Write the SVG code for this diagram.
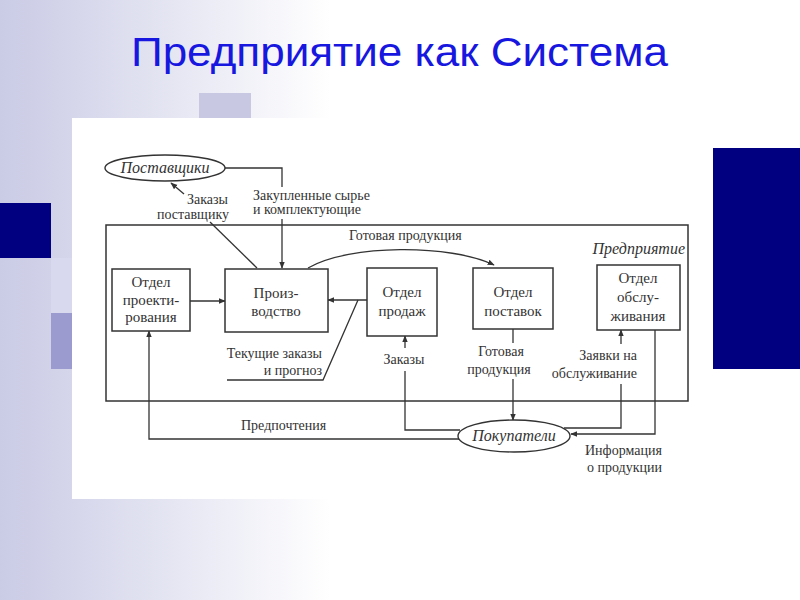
<svg xmlns="http://www.w3.org/2000/svg" width="800" height="600" viewBox="0 0 800 600">
  <defs>
    <linearGradient id="bg" gradientUnits="userSpaceOnUse" x1="0" y1="0" x2="330" y2="0">
      <stop offset="0" stop-color="#cacbe5"/>
      <stop offset="0.2" stop-color="#d4d5ea"/>
      <stop offset="1" stop-color="#ffffff"/>
    </linearGradient>
    <marker id="arr" viewBox="0 0 10 10" refX="9" refY="5" markerWidth="7" markerHeight="7" markerUnits="userSpaceOnUse" orient="auto">
      <path d="M0,1 L10,5 L0,9 Z" fill="#333"/>
    </marker>
    <style>
      .box { fill: #fff; stroke: #333; stroke-width: 1.5; }
      .ell { fill: #fff; stroke: #333; stroke-width: 1.4; }
      .ln { fill: none; stroke: #333; stroke-width: 1.3; }
      .a { marker-end: url(#arr); }
      .t { font-family: "Liberation Serif", "DejaVu Serif", serif; font-size: 15px; fill: #333; }
      .l { font-family: "Liberation Serif", "DejaVu Serif", serif; font-size: 14px; fill: #333; }
      .i { font-family: "Liberation Serif", "DejaVu Serif", serif; font-size: 16px; font-style: italic; fill: #333; }
      .c { text-anchor: middle; }
      .r { text-anchor: end; }
    </style>
  </defs>

  <!-- background -->
  <rect x="0" y="0" width="800" height="600" fill="url(#bg)"/>
  <rect x="199" y="93" width="52" height="52" fill="#c8c8e3"/>
  <rect x="0" y="203" width="51" height="55" fill="#000080"/>
  <rect x="51" y="258" width="55" height="55" fill="#d8d8ee"/>
  <rect x="51" y="313" width="55" height="56" fill="#9b9bd0"/>

  <!-- white panel -->
  <rect x="72" y="118" width="643" height="381" fill="#ffffff"/>
  <rect x="713" y="148" width="87" height="221" fill="#000080"/>

  <!-- title -->
  <text x="131" y="66" font-family="'Liberation Sans', Arial, sans-serif" font-size="40" fill="#1717e0" textLength="537" lengthAdjust="spacingAndGlyphs">Предприятие как Система</text>

  <!-- enterprise boundary -->
  <g id="enterprise">
    <rect x="106" y="225" width="582" height="176" fill="none" stroke="#333" stroke-width="1.5"/>
    <text class="i" x="685" y="254" text-anchor="end">Предприятие</text>
  </g>

  <!-- connectors -->
  <g id="connectors">
    <!-- suppliers -> production -->
    <path class="ln" d="M225,168 H282 V187"/>
    <path class="ln a" d="M282,219 V268"/>
    <!-- production -> suppliers (orders) -->
    <path class="ln" d="M257,268 L210,222"/>
    <path class="ln a" d="M184,194 L171,183"/>
    <!-- design -> production -->
    <path class="ln a" d="M190,301 H225"/>
    <!-- sales -> production -->
    <path class="ln a" d="M367,300 H328"/>
    <!-- leader for current orders -->
    <path class="ln" d="M358,300 L323,380 H227"/>
    <!-- production -> supply (finished goods) -->
    <path class="ln a" d="M308,268 C350,244 450,244 494,265"/>
    <!-- customers -> sales (orders) -->
    <path class="ln" d="M460,430 H405 V371"/>
    <path class="ln a" d="M405,348 V336"/>
    <!-- supply -> customers -->
    <path class="ln" d="M513,329 V343"/>
    <path class="ln a" d="M513,379 V420"/>
    <!-- customers -> service (requests) -->
    <path class="ln" d="M564,428 H621 V384"/>
    <path class="ln a" d="M621,344 V330"/>
    <!-- service -> customers (product info) -->
    <path class="ln a" d="M655,330 V434 H571"/>
    <!-- customers -> design (preferences) -->
    <path class="ln a" d="M459,439 H149 V331"/>
  </g>

  <!-- connector labels -->
  <g id="labels">
    <text class="l" x="253" y="200">Закупленные сырье</text>
    <text class="l" x="253" y="214">и комплектующие</text>
    <text class="l r" x="228" y="204">Заказы</text>
    <text class="l r" x="229" y="219">поставщику</text>
    <text class="l" x="349" y="240">Готовая продукция</text>
    <text class="l r" x="322" y="358">Текущие заказы</text>
    <text class="l r" x="322" y="375">и прогноз</text>
    <text class="l c" x="404" y="364">Заказы</text>
    <text class="l c" x="501" y="356">Готовая</text>
    <text class="l c" x="499" y="374">продукция</text>
    <text class="l r" x="637" y="360">Заявки на</text>
    <text class="l r" x="637" y="378">обслуживание</text>
    <text class="l" x="241" y="430">Предпочтения</text>
    <text class="l" x="585" y="455">Информация</text>
    <text class="l" x="587" y="472">о продукции</text>
  </g>

  <!-- nodes -->
  <g id="suppliers">
    <ellipse class="ell" cx="165" cy="168" rx="60" ry="13"/>
    <text class="i c" x="165" y="173">Поставщики</text>
  </g>
  <g id="design">
    <rect class="box" x="112" y="269" width="78" height="62"/>
    <text class="t c" x="151" y="287">Отдел</text>
    <text class="t c" x="151" y="305">проекти-</text>
    <text class="t c" x="151" y="322">рования</text>
  </g>
  <g id="production">
    <rect class="box" x="225" y="269" width="103" height="63"/>
    <text class="t c" x="276" y="298">Произ-</text>
    <text class="t c" x="276" y="316">водство</text>
  </g>
  <g id="sales">
    <rect class="box" x="367" y="268" width="70" height="68"/>
    <text class="t c" x="402" y="297">Отдел</text>
    <text class="t c" x="402" y="316">продаж</text>
  </g>
  <g id="supply">
    <rect class="box" x="473" y="268" width="80" height="61"/>
    <text class="t c" x="513" y="297">Отдел</text>
    <text class="t c" x="513" y="316">поставок</text>
  </g>
  <g id="service">
    <rect class="box" x="597" y="265" width="83" height="65"/>
    <text class="t c" x="638" y="283">Отдел</text>
    <text class="t c" x="638" y="302">обслу-</text>
    <text class="t c" x="638" y="321">живания</text>
  </g>
  <g id="customers">
    <ellipse class="ell" cx="514" cy="436" rx="56" ry="16"/>
    <text class="i c" x="514" y="441">Покупатели</text>
  </g>
</svg>
